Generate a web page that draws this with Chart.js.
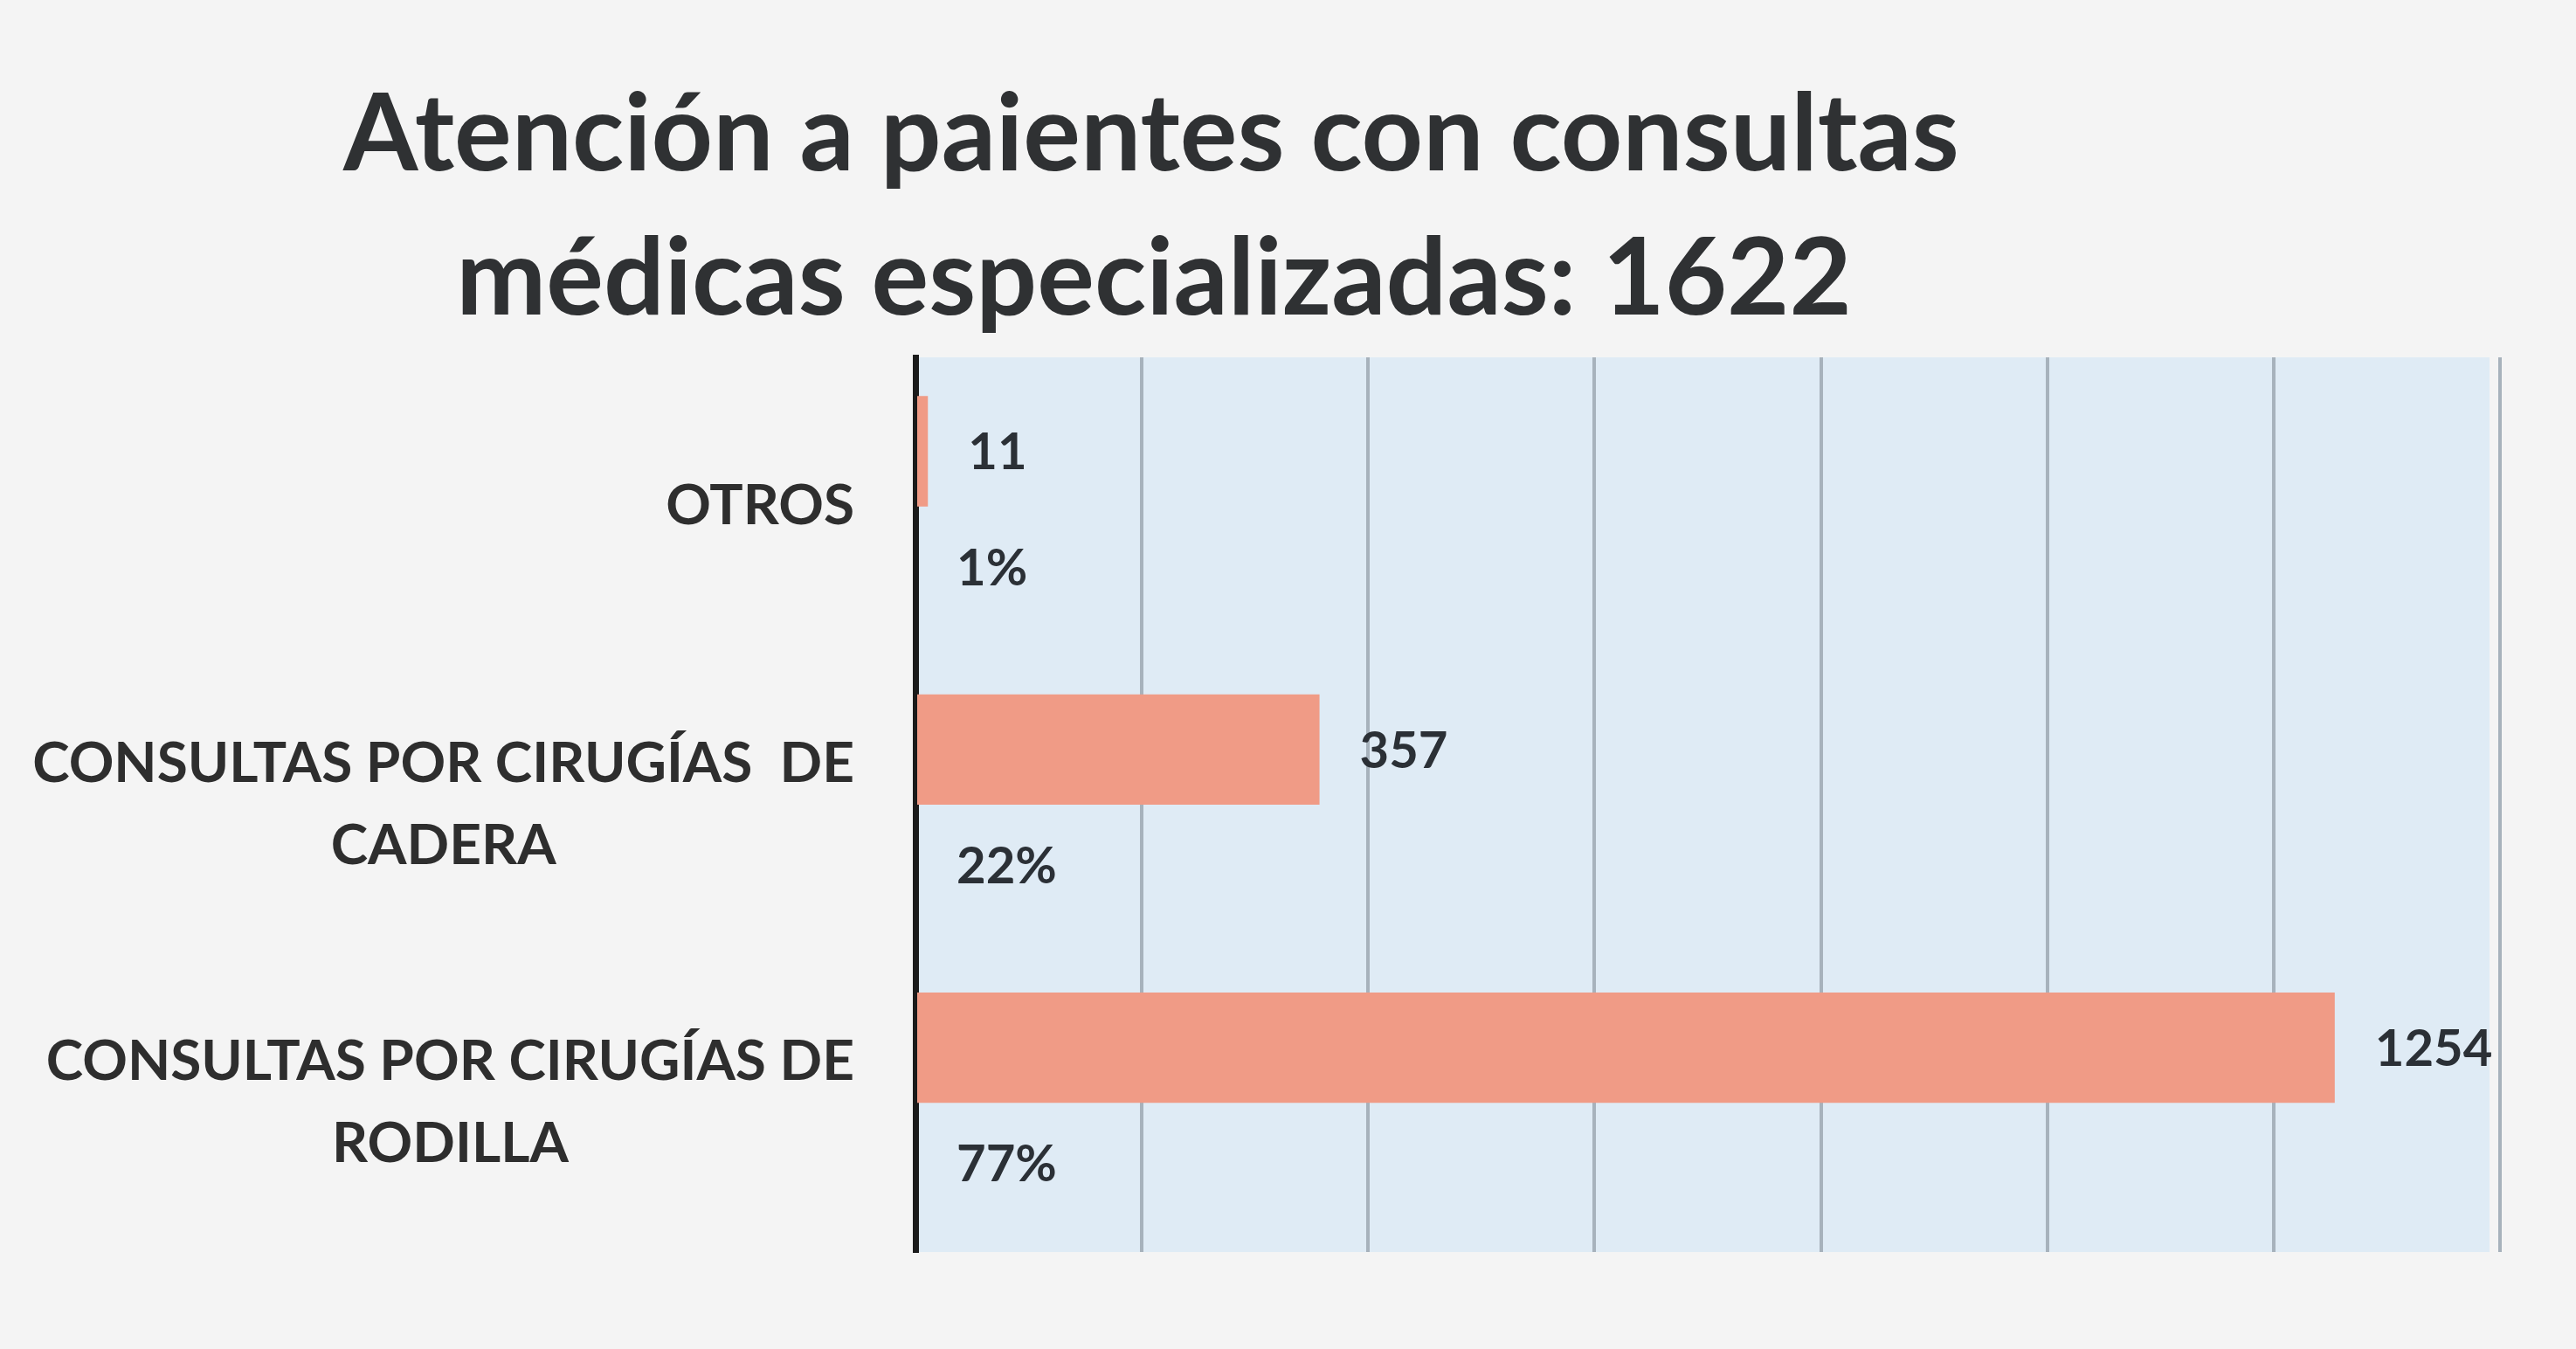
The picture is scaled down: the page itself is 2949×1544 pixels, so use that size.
<!DOCTYPE html>
<html><head><meta charset="utf-8">
<script src="https://cdn.jsdelivr.net/npm/chart.js@4.4.0/dist/chart.umd.min.js"></script>
<style>html,body{margin:0;padding:0;background:#f4f4f4;overflow:hidden}</style>
</head><body>
<canvas id="c" width="2949" height="1544"></canvas>
<script>
const titleLines = ["Atención a paientes con consultas", "médicas especializadas: 1622"];
const categories = [["OTROS"], ["CONSULTAS POR CIRUGÍAS  DE", "CADERA"], ["CONSULTAS POR CIRUGÍAS DE", "RODILLA"]];
const consultas = [11, 357, 1254];
const porcentajes = [1, 22, 77];
const xMin = 0, xMax = 1400, xStep = 200;

const bgPlugin = {
  id: 'bg',
  beforeDraw(chart) {
    const c = chart.ctx, a = chart.chartArea;
    c.save();
    c.fillStyle = '#f4f4f4';
    c.fillRect(0, 0, chart.width, chart.height);
    c.fillStyle = '#dfebf5';
    c.fillRect(a.left, a.top, a.right - a.left - 12, a.bottom - a.top);
    c.restore();
  }
};

const textPlugin = {
  id: 'texts',
  afterDraw(chart) {
    const c = chart.ctx, a = chart.chartArea;
    c.save();
    c.fillStyle = '#2b3036';
    c.textBaseline = 'middle';
    c.textAlign = 'left';
    c.font = '700 58px Lato';
    chart.getDatasetMeta(0).data.forEach((el, i) => c.fillText(String(consultas[i]), el.x + 46, el.y + 2));
    chart.getDatasetMeta(1).data.forEach((el, i) => c.fillText(porcentajes[i] + '%', el.base + 45, el.y + 8));
    // category labels: block right-aligned, lines centered
    const ys = chart.scales.y;
    c.fillStyle = '#2e2e2e';
    c.textAlign = 'center';
    c.font = '700 64px Lato';
    categories.forEach((lines, i) => {
      const y = ys.getPixelForTick(i);
      const w = Math.max(...lines.map(l => c.measureText(l).width));
      const cx = a.left - 70 - w / 2;
      lines.forEach((l, k) => c.fillText(l, cx, y + (k - (lines.length - 1) / 2) * 94));
    });
    // title
    c.fillStyle = '#2f3133';
    c.textBaseline = 'alphabetic';
    c.font = '700 123px Lato';
    c.fillText(titleLines[0], 1318, 195);
    c.fillText(titleLines[1], 1321, 360);
    c.restore();
  }
};

function draw() {
  new Chart(document.getElementById('c'), {
    type: 'bar',
    data: {
      labels: categories,
      datasets: [
        { data: consultas, backgroundColor: '#f09b86', borderWidth: 0, barPercentage: 1, categoryPercentage: 0.74 },
        { data: porcentajes, backgroundColor: 'rgba(0,0,0,0)', borderWidth: 0, barPercentage: 1, categoryPercentage: 0.74 }
      ]
    },
    options: {
      indexAxis: 'y',
      responsive: false,
      animation: false,
      events: [],
      layout: { padding: { left: 1048, right: 87, top: 409, bottom: 111 } },
      plugins: { legend: { display: false }, title: { display: false }, tooltip: { enabled: false } },
      scales: {
        x: {
          min: xMin, max: xMax,
          ticks: { display: false, stepSize: xStep },
          grid: { color: '#a7b2bc', lineWidth: 4, drawTicks: false },
          border: { display: false }
        },
        y: {
          ticks: { display: false },
          grid: { display: false, drawTicks: false },
          border: { display: true, color: '#1b1b1b', width: 7 }
        }
      }
    },
    plugins: [bgPlugin, textPlugin]
  });
}
if (document.fonts && document.fonts.load) {
  Promise.all([document.fonts.load('700 58px Lato'), document.fonts.load('700 123px Lato')]).then(draw, draw);
} else draw();
</script>
</body></html>
